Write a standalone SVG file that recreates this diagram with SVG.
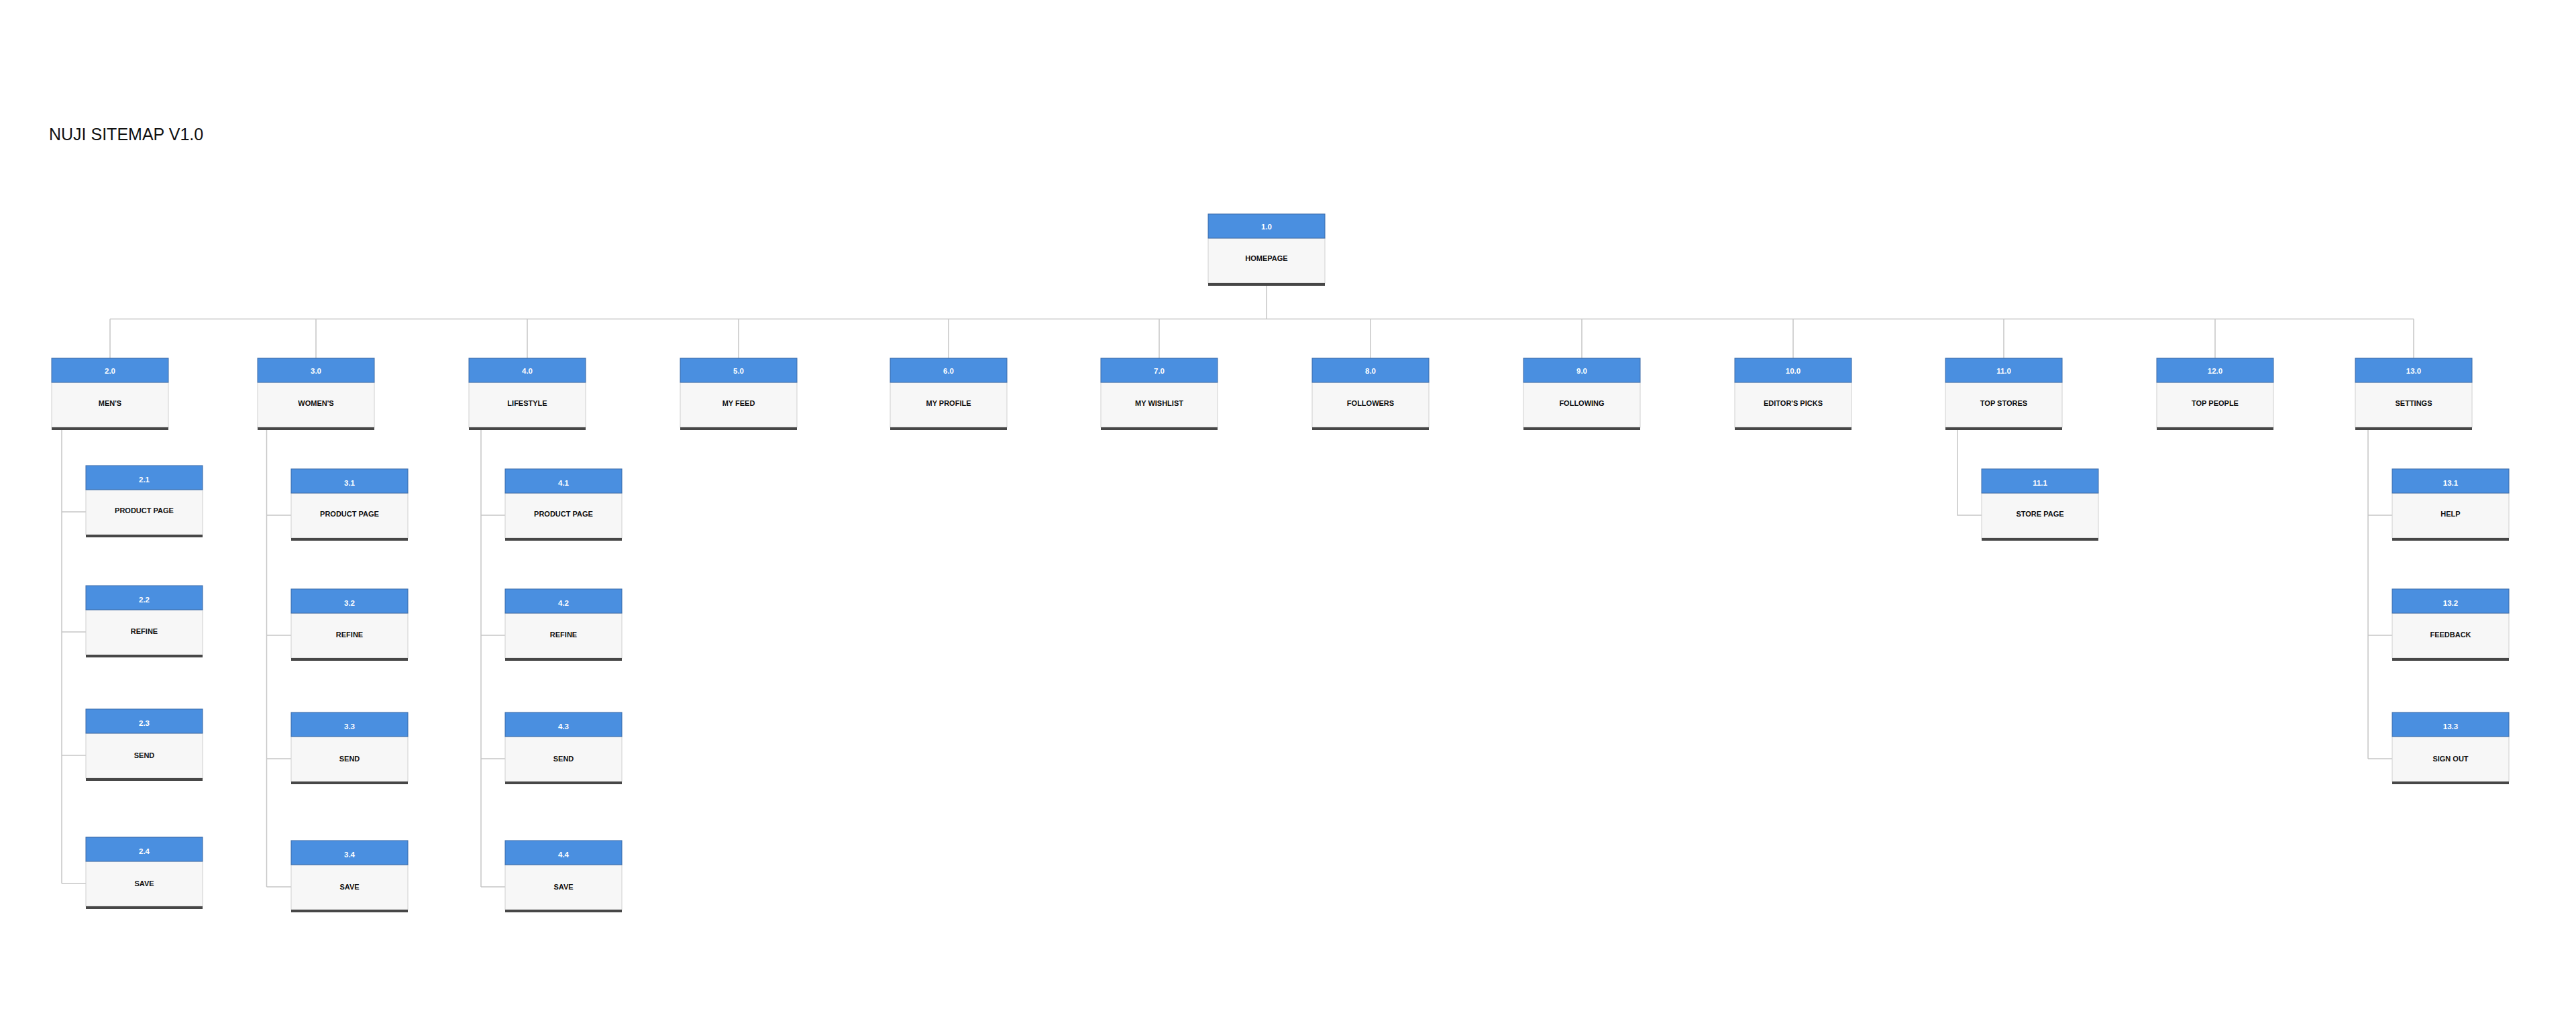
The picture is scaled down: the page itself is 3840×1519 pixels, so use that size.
<svg xmlns="http://www.w3.org/2000/svg" width="3840" height="1519" viewBox="0 0 3840 1519">
<style>
.bg{fill:#ffffff}
.hd{fill:#4a8fe0;stroke:#3a6aa8;stroke-width:1}
.bd{fill:#f7f7f7;stroke:#cfcfcf;stroke-width:1}
.bar{fill:#474747}
.num{font-family:"Liberation Sans",Arial,sans-serif;font-weight:bold;font-size:11.5px;fill:#ffffff;text-anchor:middle}
.lbl{font-family:"Liberation Sans",Arial,sans-serif;font-weight:bold;font-size:11px;fill:#111111;text-anchor:middle}
.title{font-family:"Liberation Sans",Arial,sans-serif;font-size:25px;fill:#111111}
.cn{fill:none;stroke:#c6c6c6;stroke-width:1.5}
</style>
<defs>
<g id="box">
<rect class="bd" x="0" y="36" width="174" height="67"/>
<rect class="bar" x="0" y="103" width="174" height="4"/>
<rect class="hd" x="0" y="0" width="174" height="36"/>
</g>
</defs>
<rect class="bg" x="0" y="0" width="3840" height="1519"/>
<text class="title" x="73" y="209">NUJI SITEMAP V1.0</text>

<g id="connectors">
<path class="cn" d="M1888 426V475.5M164 475.5H3598"/>
<path class="cn" d="M164 475.5V534M471 475.5V534M786 475.5V534M1101 475.5V534M1414 475.5V534M1728 475.5V534M2043 475.5V534M2358 475.5V534M2673 475.5V534M2987 475.5V534M3302 475.5V534M3598 475.5V534"/>
<path class="cn" d="M92 641V1317M92 763H128M92 942H128M92 1126H128M92 1317H128"/>
<path class="cn" d="M397.5 641V1322M397.5 768H434M397.5 947H434M397.5 1131H434M397.5 1322H434"/>
<path class="cn" d="M717 641V1322M717 768H753M717 947H753M717 1131H753M717 1322H753"/>
<path class="cn" d="M2918 641V768H2954"/>
<path class="cn" d="M3530 641V1131M3530 768H3566M3530 947H3566M3530 1131H3566"/>
</g>

<g id="n1_0" transform="translate(1801,319)"><use href="#box"/><text class="num" x="87" y="23">1.0</text><text class="lbl" x="87" y="70">HOMEPAGE</text></g>

<g id="n2_0" transform="translate(77,534)"><use href="#box"/><text class="num" x="87" y="23">2.0</text><text class="lbl" x="87" y="71">MEN'S</text></g>
<g id="n3_0" transform="translate(384,534)"><use href="#box"/><text class="num" x="87" y="23">3.0</text><text class="lbl" x="87" y="71">WOMEN'S</text></g>
<g id="n4_0" transform="translate(699,534)"><use href="#box"/><text class="num" x="87" y="23">4.0</text><text class="lbl" x="87" y="71">LIFESTYLE</text></g>
<g id="n5_0" transform="translate(1014,534)"><use href="#box"/><text class="num" x="87" y="23">5.0</text><text class="lbl" x="87" y="71">MY FEED</text></g>
<g id="n6_0" transform="translate(1327,534)"><use href="#box"/><text class="num" x="87" y="23">6.0</text><text class="lbl" x="87" y="71">MY PROFILE</text></g>
<g id="n7_0" transform="translate(1641,534)"><use href="#box"/><text class="num" x="87" y="23">7.0</text><text class="lbl" x="87" y="71">MY WISHLIST</text></g>
<g id="n8_0" transform="translate(1956,534)"><use href="#box"/><text class="num" x="87" y="23">8.0</text><text class="lbl" x="87" y="71">FOLLOWERS</text></g>
<g id="n9_0" transform="translate(2271,534)"><use href="#box"/><text class="num" x="87" y="23">9.0</text><text class="lbl" x="87" y="71">FOLLOWING</text></g>
<g id="n10_0" transform="translate(2586,534)"><use href="#box"/><text class="num" x="87" y="23">10.0</text><text class="lbl" x="87" y="71">EDITOR'S PICKS</text></g>
<g id="n11_0" transform="translate(2900,534)"><use href="#box"/><text class="num" x="87" y="23">11.0</text><text class="lbl" x="87" y="71">TOP STORES</text></g>
<g id="n12_0" transform="translate(3215,534)"><use href="#box"/><text class="num" x="87" y="23">12.0</text><text class="lbl" x="87" y="71">TOP PEOPLE</text></g>
<g id="n13_0" transform="translate(3511,534)"><use href="#box"/><text class="num" x="87" y="23">13.0</text><text class="lbl" x="87" y="71">SETTINGS</text></g>

<g id="n2_1" transform="translate(128,694)"><use href="#box"/><text class="num" x="87" y="25">2.1</text><text class="lbl" x="87" y="71">PRODUCT PAGE</text></g>
<g id="n2_2" transform="translate(128,873)"><use href="#box"/><text class="num" x="87" y="25">2.2</text><text class="lbl" x="87" y="72">REFINE</text></g>
<g id="n2_3" transform="translate(128,1057)"><use href="#box"/><text class="num" x="87" y="25">2.3</text><text class="lbl" x="87" y="73">SEND</text></g>
<g id="n2_4" transform="translate(128,1248)"><use href="#box"/><text class="num" x="87" y="25">2.4</text><text class="lbl" x="87" y="73">SAVE</text></g>

<g id="n3_1" transform="translate(434,699)"><use href="#box"/><text class="num" x="87" y="25">3.1</text><text class="lbl" x="87" y="71">PRODUCT PAGE</text></g>
<g id="n3_2" transform="translate(434,878)"><use href="#box"/><text class="num" x="87" y="25">3.2</text><text class="lbl" x="87" y="72">REFINE</text></g>
<g id="n3_3" transform="translate(434,1062)"><use href="#box"/><text class="num" x="87" y="25">3.3</text><text class="lbl" x="87" y="73">SEND</text></g>
<g id="n3_4" transform="translate(434,1253)"><use href="#box"/><text class="num" x="87" y="25">3.4</text><text class="lbl" x="87" y="73">SAVE</text></g>

<g id="n4_1" transform="translate(753,699)"><use href="#box"/><text class="num" x="87" y="25">4.1</text><text class="lbl" x="87" y="71">PRODUCT PAGE</text></g>
<g id="n4_2" transform="translate(753,878)"><use href="#box"/><text class="num" x="87" y="25">4.2</text><text class="lbl" x="87" y="72">REFINE</text></g>
<g id="n4_3" transform="translate(753,1062)"><use href="#box"/><text class="num" x="87" y="25">4.3</text><text class="lbl" x="87" y="73">SEND</text></g>
<g id="n4_4" transform="translate(753,1253)"><use href="#box"/><text class="num" x="87" y="25">4.4</text><text class="lbl" x="87" y="73">SAVE</text></g>

<g id="n11_1" transform="translate(2954,699)"><use href="#box"/><text class="num" x="87" y="25">11.1</text><text class="lbl" x="87" y="71">STORE PAGE</text></g>

<g id="n13_1" transform="translate(3566,699)"><use href="#box"/><text class="num" x="87" y="25">13.1</text><text class="lbl" x="87" y="71">HELP</text></g>
<g id="n13_2" transform="translate(3566,878)"><use href="#box"/><text class="num" x="87" y="25">13.2</text><text class="lbl" x="87" y="72">FEEDBACK</text></g>
<g id="n13_3" transform="translate(3566,1062)"><use href="#box"/><text class="num" x="87" y="25">13.3</text><text class="lbl" x="87" y="73">SIGN OUT</text></g>
</svg>
